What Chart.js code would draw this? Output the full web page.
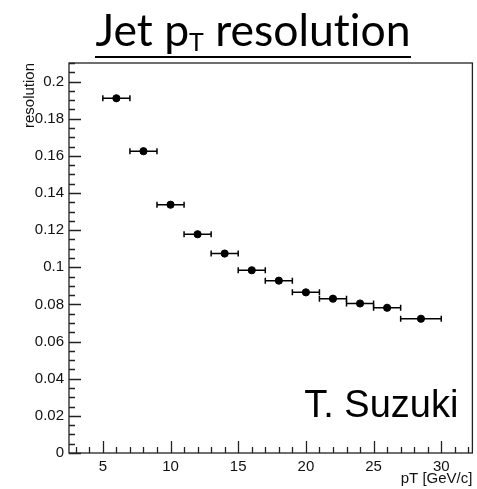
<!DOCTYPE html>
<html>
<head>
<meta charset="utf-8">
<script src="https://cdn.jsdelivr.net/npm/chart.js@4"></script>
<style>
  html, body { margin: 0; padding: 0; background: #fff; }
  #wrap { position: relative; width: 477px; height: 489px; }
  #title {
    position: absolute; left: 0; top: 5px; width: 506px; text-align: center;
    font-family: 'Lato', sans-serif; font-size: 44.5px; color: #000; line-height: 48px;
    font-variant-ligatures: none; font-feature-settings: "liga" 0;
  }
  #title span { border-bottom: 2px solid #000; padding-bottom: 1px; }
  #title sub { font-size: 25px; vertical-align: -5px; line-height: 0; }
  #chart-box { position: absolute; left: 0; top: 0; width: 477px; height: 489px; }
</style>
</head>
<body>
<div id="wrap">
  <div id="chart-box"><canvas id="resChart"></canvas></div>
  <div id="title"><span>Jet p<sub>T</sub> resolution</span></div>
</div>
<script>
// pT bins (GeV/c) and measured resolution
const binCenters = [6, 8, 10, 12, 14, 16, 18, 20, 22, 24, 26, 28.5];
const binLow     = [5, 7, 9, 11, 13, 15, 17, 19, 21, 23, 25, 27];
const binHigh    = [7, 9, 11, 13, 15, 17, 19, 21, 23, 25, 27, 30];
const resolution = [0.191, 0.1625, 0.1337, 0.1178, 0.1074, 0.0984, 0.0928, 0.0865, 0.0831, 0.0805, 0.0782, 0.0723];

const xTicks = [5, 10, 15, 20, 25, 30];
const yTicks = [0, 0.02, 0.04, 0.06, 0.08, 0.1, 0.12, 0.14, 0.16, 0.18, 0.2];

const points = binCenters.map((x, i) => ({ x: x, y: resolution[i], lo: binLow[i], hi: binHigh[i] }));

const axisColor = '#222';

// horizontal error bars with end caps
const errorBars = {
    id: 'errorBars',
    beforeDatasetsDraw(chart) {
        const { ctx, scales: { x, y } } = chart;
        ctx.save();
        ctx.strokeStyle = '#000';
        ctx.lineWidth = 1.5;
        chart.data.datasets[0].data.forEach(p => {
            const py = y.getPixelForValue(p.y);
            const x1 = x.getPixelForValue(p.lo);
            const x2 = x.getPixelForValue(p.hi);
            ctx.beginPath();
            ctx.moveTo(x1, py); ctx.lineTo(x2, py);
            ctx.moveTo(x1, py - 3); ctx.lineTo(x1, py + 3);
            ctx.moveTo(x2, py - 3); ctx.lineTo(x2, py + 3);
            ctx.stroke();
        });
        ctx.restore();
    }
};

// ROOT-style frame with ticks pointing inward
const rootFrame = {
    id: 'rootFrame',
    afterDraw(chart) {
        const { ctx, chartArea: a, scales: { x, y } } = chart;
        ctx.save();
        ctx.strokeStyle = axisColor;
        ctx.lineWidth = 1.3;
        ctx.strokeRect(a.left, a.top, a.right - a.left, a.bottom - a.top);

        ctx.beginPath();
        // y ticks: major every 0.02, minor every 0.005
        for (let v = 0; v <= y.max + 1e-9; v += 0.005) {
            const major = Math.abs(v / 0.02 - Math.round(v / 0.02)) < 1e-6;
            const py = Math.round(y.getPixelForValue(v)) + 0.5;
            ctx.moveTo(a.left, py);
            ctx.lineTo(a.left + (major ? 12 : 6), py);
        }
        // x ticks: major every 5, minor every 1
        for (let v = Math.ceil(x.min); v <= x.max; v += 1) {
            const major = v % 5 === 0;
            const px = Math.round(x.getPixelForValue(v)) + 0.5;
            ctx.moveTo(px, a.bottom);
            ctx.lineTo(px, a.bottom - (major ? 12 : 6));
        }
        ctx.stroke();

        ctx.fillStyle = '#000';
        ctx.font = '38px "Liberation Sans", Arial, sans-serif';
        ctx.textAlign = 'right';
        ctx.textBaseline = 'alphabetic';
        ctx.fillText('T. Suzuki', a.right - 14, a.bottom - 36);
        ctx.restore();
    }
};

const tickFont = { family: '"Liberation Sans", Arial, sans-serif', size: 15 };

new Chart(document.getElementById('resChart'), {
    type: 'scatter',
    data: {
        datasets: [{
            data: points,
            backgroundColor: '#000',
            borderColor: '#000',
            pointRadius: 3.6,
            pointHoverRadius: 3.6
        }]
    },
    options: {
        responsive: true,
        maintainAspectRatio: false,
        animation: false,
        events: [],
        layout: { padding: { top: 63, right: 3, left: 0, bottom: 0 } },
        plugins: { legend: { display: false }, tooltip: { enabled: false } },
        scales: {
            x: {
                type: 'linear',
                min: 2.5,
                max: 32.3,
                grid: { display: false, drawTicks: false },
                border: { display: false },
                afterBuildTicks: s => { s.ticks = xTicks.map(v => ({ value: v })); },
                afterFit: s => { s.height = 36; },
                ticks: { color: '#111', font: tickFont, padding: 5, maxRotation: 0, autoSkip: false },
                title: {
                    display: true, text: 'pT [GeV/c]', align: 'end', color: '#111',
                    font: tickFont, padding: { top: 0, bottom: 1 }
                }
            },
            y: {
                min: 0,
                max: 0.21,
                grid: { display: false, drawTicks: false },
                border: { display: false },
                afterBuildTicks: s => { s.ticks = yTicks.map(v => ({ value: v })); },
                afterFit: s => { s.width = 69; },
                ticks: {
                    color: '#111', font: tickFont, padding: 5, autoSkip: false,
                    callback: v => String(+v.toFixed(2))
                },
                title: {
                    display: true, text: 'resolution', align: 'end', color: '#111',
                    font: tickFont, padding: { top: 21, bottom: 0 }
                }
            }
        }
    },
    plugins: [errorBars, rootFrame]
});
</script>
</body>
</html>
